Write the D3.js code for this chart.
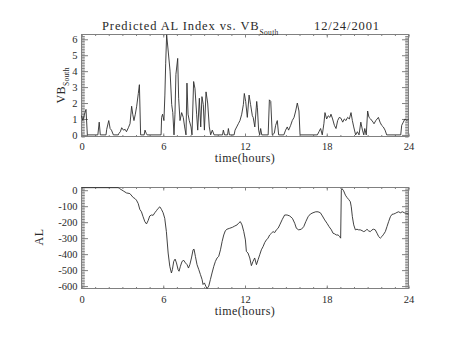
<!DOCTYPE html>
<html>
<head>
<meta charset="utf-8">
<script src="https://cdn.jsdelivr.net/npm/d3@7"></script>
<style>
  html, body { margin: 0; padding: 0; background: #fff; }
  svg { display: block; }
  text { font-family: "Liberation Serif", "DejaVu Serif", serif; fill: #2a2a2a; }
</style>
</head>
<body>
<svg id="chart" width="454" height="341"></svg>
<script>
// ---------- data ----------
const titleMain = "Predicted AL Index vs. VB";
const titleSub = "South";
const titleDate = "12/24/2001";
const xLabel = "time(hours)";
const xTicks = [0, 6, 12, 18, 24];
const vbTicks = [0, 1, 2, 3, 4, 5, 6];
const alTicks = [0, -100, -200, -300, -400, -500, -600];

const vbTime = [0.00,0.10,0.22,0.33,0.43,1.20,1.30,1.38,1.80,1.85,2.00,2.10,2.20,2.34,2.70,2.75,2.85,2.95,3.08,3.20,3.30,3.44,3.56,3.68,3.76,3.85,3.95,4.05,4.17,4.25,4.34,4.60,4.66,4.75,4.82,5.84,5.88,5.95,6.05,6.12,6.18,6.25,6.37,6.50,6.62,6.70,6.79,6.86,6.93,7.06,7.13,7.23,7.35,7.47,7.57,7.67,7.74,7.82,7.91,8.04,8.11,8.23,8.33,8.45,8.53,8.65,8.75,8.84,8.94,9.02,9.14,9.26,9.38,9.48,9.60,9.73,10.35,10.41,10.50,10.72,10.78,10.86,11.20,11.27,11.39,11.51,11.63,11.76,11.88,11.95,12.05,12.17,12.30,12.41,12.54,12.60,12.72,12.86,12.91,13.00,13.08,13.15,13.23,13.70,13.79,13.89,14.00,14.15,14.25,14.37,14.47,14.85,14.98,15.10,15.20,15.35,15.47,15.60,15.72,15.84,15.96,16.04,17.31,17.43,17.55,17.67,17.79,17.87,17.99,18.11,18.23,18.31,18.43,18.56,18.68,18.80,18.92,19.04,19.17,19.29,19.41,19.53,19.66,19.78,19.88,19.98,20.12,20.25,20.37,20.50,20.62,20.72,20.79,20.90,21.00,21.10,21.22,21.40,21.47,21.60,21.79,21.91,22.03,22.15,22.28,22.40,23.43,23.50,23.62,23.74,23.90,24.00];
const vbValue = [1.2,0.9,1.3,1.6,0,0,0.8,0,0,0.35,0.9,0.4,0.3,0,0,0.1,0.2,0.45,0.3,0.35,0.2,0.45,0.7,1.8,1.3,0.9,1.3,1.8,2.6,3.15,0,0,0.3,0.1,0,0,1.1,1.3,0.9,2.5,4.5,6.28,5.2,4.0,1.9,1.4,0,1.3,3.8,4.8,2.3,0.9,1.4,1.1,0.5,0,3.25,1.3,0.9,0.5,0,3.35,2.9,1.3,0.3,2.3,0.5,2.4,1.9,0.3,2.7,2.0,0.5,0,0.3,0,0,0.3,0,0,0.4,0,0,0.3,0.5,0.7,0.9,1.3,1.9,2.6,2.1,1.1,2.5,1.9,1.2,1.1,0.5,2.1,1.7,0.3,0,0.4,0,0,2.2,2.1,0,0.1,0.6,0.9,0,0,0.3,0.5,0.3,0.6,0.9,1.1,1.5,2.0,1.5,0,0,0.2,0.4,0,0.7,1.4,1.0,1.2,1.1,1.3,1.0,0.6,0.4,0.9,1.1,1.05,0.8,1.0,0.9,1.1,1.0,1.4,0.9,0.5,0,0.2,0,0.8,0.3,0,0.4,0,1.5,1.1,1.0,0.8,0.7,0.9,1.1,0.8,0.6,0.5,0.3,0,0,0.6,0.8,1.0,0.9,1.0];

const alTime = [0,2.69,2.80,3.06,3.30,3.55,3.80,3.92,4.03,4.16,4.28,4.40,4.52,4.65,4.77,4.89,5.01,5.13,5.26,5.38,5.50,5.62,5.75,5.87,5.99,6.11,6.23,6.36,6.48,6.60,6.67,6.77,6.87,6.97,7.09,7.16,7.26,7.38,7.51,7.63,7.75,7.85,7.95,8.07,8.19,8.26,8.36,8.48,8.61,8.73,8.85,8.92,9.02,9.12,9.22,9.34,9.46,9.58,9.71,9.83,9.95,10.07,10.20,10.32,10.44,10.56,10.68,10.88,11.08,11.25,11.42,11.56,11.66,11.78,11.91,12.03,12.10,12.22,12.35,12.47,12.59,12.71,12.84,12.96,13.08,13.20,13.33,13.45,13.57,13.69,13.81,13.94,14.06,14.18,14.30,14.43,14.55,14.74,14.91,15.09,15.28,15.48,15.65,15.77,15.94,16.14,16.31,16.46,16.63,16.80,16.99,17.19,17.36,17.53,17.68,17.85,18.02,18.17,18.34,18.46,18.58,18.70,18.83,18.95,19.02,19.07,19.12,19.24,19.37,19.49,19.61,19.73,19.80,19.88,19.98,20.10,20.22,20.34,20.46,20.59,20.71,20.83,20.95,21.08,21.20,21.32,21.44,21.56,21.69,21.81,21.93,22.05,22.18,22.30,22.42,22.54,22.67,22.79,22.91,23.03,23.15,23.28,23.40,23.55,23.69,23.84,24.00];
const alValue = [16,16,10,-4,-17,-21,-46,-52,-62,-83,-120,-135,-166,-197,-211,-190,-161,-155,-157,-141,-128,-114,-104,-120,-141,-176,-259,-393,-476,-518,-497,-445,-431,-455,-497,-507,-476,-445,-439,-455,-466,-487,-466,-424,-373,-369,-414,-466,-497,-528,-559,-590,-580,-600,-615,-600,-559,-518,-476,-445,-424,-414,-373,-321,-280,-253,-244,-238,-232,-224,-217,-203,-197,-217,-259,-311,-383,-393,-424,-472,-445,-424,-466,-435,-404,-373,-352,-327,-311,-300,-280,-269,-259,-265,-248,-238,-217,-182,-155,-155,-161,-176,-207,-238,-248,-244,-228,-197,-166,-149,-141,-135,-135,-141,-161,-186,-207,-228,-248,-269,-273,-280,-280,-290,-300,0,10,-4,-31,-46,-58,-72,-104,-166,-217,-248,-244,-248,-248,-253,-259,-255,-244,-255,-259,-248,-244,-248,-269,-290,-300,-290,-275,-259,-228,-197,-166,-151,-149,-145,-139,-135,-141,-135,-141,-145,-149];

// ---------- layout ----------
const svg = d3.select("#chart");
svg.append("rect").attr("width", 454).attr("height", 341).attr("fill", "#fff");

const left = 81.5, right = 408.5;
const panels = [
  { top: 34.5, bottom: 136.5, domain: [-0.1, 6.3], ticks: vbTicks, minorStep: 0.1,
    time: vbTime, value: vbValue },
  { top: 187.5, bottom: 288.5, domain: [-615, 17], ticks: alTicks, minorStep: 10,
    time: alTime, value: alValue }
];

const x = d3.scaleLinear().domain([0, 24]).range([left, right]);
const xMinor = d3.range(0, 24.001, 1);
const fmt = d => String(d);
const axisColor = "#808080";

panels.forEach((p, i) => {
  const y = d3.scaleLinear().domain(p.domain).range([p.bottom, p.top]);
  const g = svg.append("g");
  const yMinor = d3.range(Math.ceil(p.domain[0] / p.minorStep), Math.floor(p.domain[1] / p.minorStep) + 1)
    .map(k => +(k * p.minorStep).toFixed(4));

  // minor y ticks left/right
  g.append("g").attr("transform", `translate(${left},0)`)
    .call(d3.axisLeft(y).tickValues(yMinor).tickSize(-3.3).tickFormat(""));
  g.append("g").attr("transform", `translate(${right},0)`)
    .call(d3.axisRight(y).tickValues(yMinor).tickSize(-3.3).tickFormat(""));
  // major y ticks
  g.append("g").attr("class", "ylab").attr("transform", `translate(${left},0)`)
    .call(d3.axisLeft(y).tickValues(p.ticks).tickSize(-6.5).tickPadding(4).tickFormat(fmt));
  g.append("g").attr("transform", `translate(${right},0)`)
    .call(d3.axisRight(y).tickValues(p.ticks).tickSize(-6.5).tickFormat(""));
  // x ticks
  g.append("g").attr("transform", `translate(0,${p.bottom})`)
    .call(d3.axisBottom(x).tickValues(xMinor).tickSize(-1.5).tickFormat(""));
  g.append("g").attr("transform", `translate(0,${p.top})`)
    .call(d3.axisTop(x).tickValues(xMinor).tickSize(-1.5).tickFormat(""));
  g.append("g").attr("class", "xlab").attr("transform", `translate(0,${p.bottom})`)
    .call(d3.axisBottom(x).tickValues(xTicks).tickSize(-3).tickPadding(6.5 + (i ? 0.5 : 0)).tickFormat(fmt));
  g.append("g").attr("transform", `translate(0,${p.top})`)
    .call(d3.axisTop(x).tickValues(xTicks).tickSize(-3).tickFormat(""));

  g.selectAll(".domain").remove();
  g.selectAll(".tick line").attr("stroke", axisColor).attr("stroke-width", 1);
  g.selectAll(".tick text").attr("font-family", "Liberation Serif, DejaVu Serif, serif")
    .attr("font-size", 10.5).attr("fill", "#2a2a2a");
  g.selectAll(".ylab .tick text").attr("dy", "0.32em");

  // frame
  g.append("rect").attr("x", left).attr("y", p.top)
    .attr("width", right - left).attr("height", p.bottom - p.top)
    .attr("fill", "none").attr("stroke", axisColor).attr("stroke-width", 1);

  // data line
  const pts = p.time.map((t, k) => [t, p.value[k]]);
  g.append("path").datum(pts)
    .attr("fill", "none").attr("stroke", "#2e2e2e").attr("stroke-width", 0.9)
    .attr("stroke-linejoin", "round")
    .attr("d", d3.line().x(d => x(d[0])).y(d => y(d[1])));

  // x label
  g.append("text").attr("x", (left + right) / 2).attr("y", i ? 315 : 162)
    .attr("text-anchor", "middle").attr("font-size", 12).attr("letter-spacing", 0.4)
    .text(xLabel);
});

// title
const title = svg.append("text").attr("x", 102).attr("y", 29.5).attr("font-size", 12.5)
  .attr("letter-spacing", 0.9);
title.append("tspan").text(titleMain);
title.append("tspan").attr("font-size", 7.5).attr("dy", 5).attr("letter-spacing", 0.3).text(titleSub);
svg.append("text").attr("x", 380).attr("y", 29.5).attr("font-size", 12.5)
  .attr("letter-spacing", 0.9).attr("text-anchor", "end").text(titleDate);

// y labels
const yl1 = svg.append("text").attr("transform", `translate(65,85.5) rotate(-90)`)
  .attr("text-anchor", "middle").attr("font-size", 12).attr("letter-spacing", 0.5);
yl1.append("tspan").text("VB");
yl1.append("tspan").attr("font-size", 7.5).attr("dy", 4).attr("letter-spacing", 0.2).text("South");

svg.append("text").attr("transform", `translate(42.5,237) rotate(-90)`)
  .attr("text-anchor", "middle").attr("font-size", 12).attr("letter-spacing", 0.5).text("AL");
</script>
</body>
</html>
